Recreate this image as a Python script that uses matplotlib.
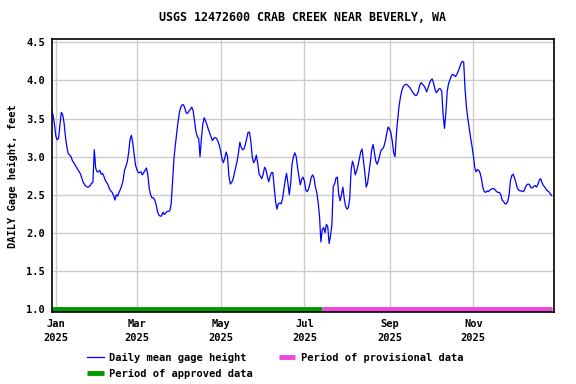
import matplotlib
matplotlib.use('Agg')
import matplotlib.pyplot as plt
import matplotlib.dates as mdates
import pandas as pd

# daily mean gage height, feet, starting 2024-12-29
start_date = '2024-12-29'
dec_2024 = [3.61, 3.54, 3.42]
jan = [3.27, 3.22, 3.24, 3.42, 3.58, 3.55, 3.44, 3.26, 3.13, 3.04, 3.02, 3.00, 2.95, 2.92, 2.89, 2.86,
       2.83, 2.80, 2.77, 2.71, 2.66, 2.63, 2.61, 2.60, 2.60, 2.62, 2.65, 2.66, 3.09, 2.85, 2.80]
feb = [2.80, 2.82, 2.77, 2.78, 2.74, 2.69, 2.66, 2.63, 2.58, 2.55, 2.53, 2.49, 2.43, 2.50, 2.48, 2.53,
       2.57, 2.62, 2.69, 2.82, 2.87, 2.93, 3.05, 3.22, 3.28, 3.18, 3.03, 2.89]
mar = [2.83, 2.79, 2.79, 2.80, 2.76, 2.79, 2.82, 2.85, 2.76, 2.58, 2.50, 2.46, 2.46, 2.43, 2.37, 2.28,
       2.23, 2.22, 2.22, 2.27, 2.24, 2.26, 2.28, 2.28, 2.29, 2.38, 2.68, 2.97, 3.15, 3.30, 3.46]
apr = [3.58, 3.65, 3.68, 3.68, 3.63, 3.57, 3.57, 3.60, 3.62, 3.65, 3.60, 3.46, 3.33, 3.26, 3.24, 3.00,
       3.24, 3.42, 3.51, 3.47, 3.42, 3.36, 3.31, 3.26, 3.21, 3.24, 3.25, 3.24, 3.20, 3.15]
may = [3.07, 2.97, 2.92, 2.98, 3.06, 3.00, 2.75, 2.64, 2.66, 2.70, 2.78, 2.86, 2.94, 3.05, 3.19, 3.12,
       3.09, 3.10, 3.16, 3.24, 3.32, 3.32, 3.20, 3.00, 2.92, 2.95, 3.02, 2.91, 2.77, 2.74, 2.71]
jun = [2.77, 2.86, 2.83, 2.74, 2.67, 2.74, 2.79, 2.79, 2.60, 2.41, 2.31, 2.38, 2.39, 2.38, 2.44, 2.56,
       2.69, 2.78, 2.65, 2.50, 2.65, 2.90, 3.00, 3.05, 3.00, 2.86, 2.74, 2.63, 2.70, 2.73]
jul = [2.68, 2.56, 2.54, 2.57, 2.64, 2.73, 2.76, 2.72, 2.60, 2.53, 2.40, 2.22, 1.88, 2.04, 2.07, 2.00,
       2.11, 2.08, 1.86, 1.96, 2.10, 2.61, 2.64, 2.72, 2.73, 2.50, 2.42, 2.50, 2.60, 2.45, 2.35]
aug = [2.31, 2.33, 2.45, 2.82, 2.94, 2.88, 2.76, 2.81, 2.88, 2.97, 3.06, 3.10, 2.95, 2.79, 2.60, 2.65,
       2.79, 2.93, 3.09, 3.16, 3.05, 2.94, 2.90, 2.95, 3.03, 3.09, 3.10, 3.14, 3.21, 3.31, 3.39]
sep = [3.36, 3.31, 3.20, 3.05, 3.00, 3.30, 3.50, 3.67, 3.79, 3.87, 3.92, 3.94, 3.95, 3.94, 3.92, 3.90,
       3.87, 3.84, 3.82, 3.80, 3.81, 3.86, 3.94, 3.97, 3.95, 3.93, 3.90, 3.85, 3.90, 3.96]
oct_ = [4.00, 4.02, 3.97, 3.89, 3.84, 3.86, 3.89, 3.89, 3.86, 3.55, 3.37, 3.57, 3.86, 3.96, 4.01, 4.06,
        4.08, 4.07, 4.05, 4.08, 4.12, 4.17, 4.22, 4.25, 4.24, 3.88, 3.65, 3.50, 3.37, 3.25, 3.14]
nov = [3.02, 2.86, 2.80, 2.83, 2.82, 2.78, 2.70, 2.59, 2.54, 2.53, 2.55, 2.54, 2.56, 2.57, 2.58, 2.58,
       2.56, 2.54, 2.53, 2.53, 2.50, 2.43, 2.41, 2.38, 2.38, 2.41, 2.49, 2.68, 2.75, 2.77]
dec = [2.72, 2.66, 2.59, 2.56, 2.55, 2.55, 2.54, 2.55, 2.60, 2.63, 2.64, 2.63, 2.59, 2.59, 2.61, 2.62,
       2.60, 2.63, 2.69, 2.71, 2.66, 2.62, 2.60, 2.57, 2.55, 2.54, 2.51, 2.49]

approved_end = '2025-07-13 12:00'
tick_dates = ['2025-01-01', '2025-03-01', '2025-05-01', '2025-07-01', '2025-09-01', '2025-11-01']
y_ticks = [1.0, 1.5, 2.0, 2.5, 3.0, 3.5, 4.0, 4.5]

values = dec_2024 + jan + feb + mar + apr + may + jun + jul + aug + sep + oct_ + nov + dec
dates = pd.date_range(start_date, periods=len(values), freq='D')

font = 'DejaVu Sans Mono'
plt.rcParams['font.family'] = font
plt.rcParams['font.weight'] = 'bold'

fig = plt.figure(figsize=(5.76, 3.84), dpi=100)
ax = fig.add_axes([0.0898, 0.1875, 0.872, 0.7102])

ax.plot(dates, values, color='#0000ff', lw=0.9, label='Daily mean gage height')

# approval status bars along the bottom
t0 = dates[0]
t1 = pd.Timestamp(approved_end)
t2 = dates[-1]
ax.plot([t0, t1], [1.0, 1.0], color='#009900', lw=3.5, solid_capstyle='butt',
        label='Period of approved data')
ax.plot([t1, t2], [1.0, 1.0], color='#ee44dd', lw=3.5, solid_capstyle='butt',
        label='Period of provisional data')

ax.set_xlim(pd.Timestamp('2024-12-29'), pd.Timestamp('2025-12-29 18:00'))
ax.set_ylim(0.96, 4.54)
ax.set_yticks(y_ticks)
ax.yaxis.set_major_formatter(plt.FormatStrFormatter('%.1f'))
ax.set_xticks(pd.to_datetime(tick_dates))
ax.xaxis.set_major_formatter(mdates.DateFormatter('%b\n%Y'))
ax.grid(True, color='#cccccc', lw=1)
ax.set_axisbelow(True)
ax.tick_params(length=0, labelsize=7.5, pad=5)
for lab in ax.get_xticklabels():
    lab.set_linespacing(1.45)
for s in ax.spines.values():
    s.set_linewidth(1.2)

ax.set_title('USGS 12472600 CRAB CREEK NEAR BEVERLY, WA', fontsize=8.4, fontweight='bold', pad=13)
ax.set_ylabel('DAILY Gage height, feet', fontsize=7.5, fontweight='bold', labelpad=6)

h, l = ax.get_legend_handles_labels()
fig.legend(h, l, ncol=2, loc='upper left', bbox_to_anchor=(0.151, 0.081), frameon=False,
           fontsize=7.5, handlelength=1.6, columnspacing=2.5, handletextpad=0.5,
           labelspacing=0.55, borderaxespad=0, borderpad=0)

fig.savefig('out.png', dpi=100)
